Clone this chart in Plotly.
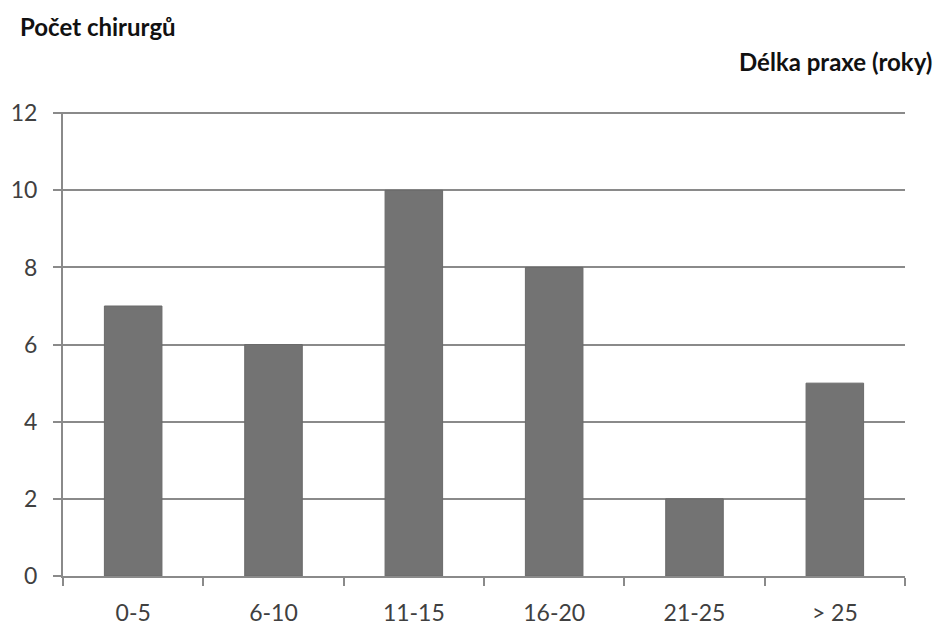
import plotly.graph_objects as go

# Years of practice (categories) and number of surgeons in each group
categories = ["0-5", "6-10", "11-15", "16-20", "21-25", "> 25"]
surgeons = [7, 6, 10, 8, 2, 5]
y_ticks = [0, 2, 4, 6, 8, 10, 12]

bar_color = "#737373"
axis_color = "#8a8a8a"
text_color = "#404040"
font_family = "Lato, 'Open Sans', sans-serif"

fig = go.Figure(
    go.Bar(
        x=categories,
        y=surgeons,
        marker=dict(color=bar_color, line=dict(color="#6a6a6a", width=1)),
        hoverinfo="x+y",
    )
)

fig.update_layout(
    width=938,
    height=639,
    margin=dict(l=63, r=33, t=112, b=63),
    paper_bgcolor="white",
    plot_bgcolor="white",
    bargap=0.59,
    showlegend=False,
    font=dict(family=font_family, color=text_color, size=23),
    annotations=[
        dict(text="<b>Počet chirurgů</b>", xref="paper", yref="paper",
             x=-45 / 842, y=1 + 86 / 464, xanchor="left", yanchor="middle",
             showarrow=False, font=dict(size=24, color="#111111", family=font_family)),
        dict(text="<b>Délka praxe (roky)</b>", xref="paper", yref="paper",
             x=1 + 29 / 842, y=1 + 50 / 464, xanchor="right", yanchor="middle",
             showarrow=False, font=dict(size=24, color="#111111", family=font_family)),
    ],
)

fig.update_xaxes(
    type="category",
    tickson="boundaries",
    ticks="outside",
    ticklen=8,
    tickwidth=2,
    tickcolor=axis_color,
    showline=True,
    linecolor=axis_color,
    linewidth=2,
    showgrid=False,
    automargin=False,
    tickfont=dict(size=23, color=text_color),
    ticklabelstandoff=15,
)

fig.update_yaxes(
    range=[0, 12.03],
    tickvals=y_ticks,
    ticks="outside",
    ticklen=8,
    tickwidth=2,
    tickcolor=axis_color,
    showline=True,
    linecolor=axis_color,
    linewidth=2,
    showgrid=True,
    gridcolor=axis_color,
    gridwidth=2,
    zeroline=False,
    automargin=False,
    tickfont=dict(size=23, color=text_color),
    ticklabelstandoff=11,
)

fig.write_html("out.html")
